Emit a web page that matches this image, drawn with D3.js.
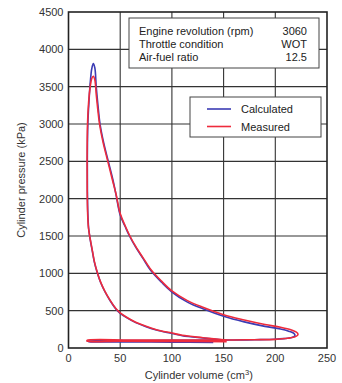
<!DOCTYPE html>
<html>
<head>
<meta charset="utf-8">
<script src="https://cdn.jsdelivr.net/npm/d3@7"></script>
<style>
  body { margin: 0; background: #fff; }
  text { font-family: "Liberation Sans", Arial, sans-serif; }
</style>
</head>
<body>
<svg id="chart" width="342" height="383"></svg>
<script>
// tick labels
const xTicks = [0, 50, 100, 150, 200, 250];
const yTicks = [0, 500, 1000, 1500, 2000, 2500, 3000, 3500, 4000, 4500];

// calculated loop (volume cm3, pressure kPa)
const calcV = [150, 130, 110, 100, 85, 75, 65, 57, 50, 46, 40, 35, 31, 28, 25, 23, 21, 19.5, 18.7, 18.3, 18.2, 18.7, 19.8, 21, 22.5, 24,
  25.5, 26.8, 28.5, 30.5, 34, 38.5, 43, 46, 50, 55, 59, 65, 72, 80, 90, 100, 115, 130, 150, 170, 190, 205, 213, 218, 219, 216, 208, 200, 180, 160, 150];
const calcP = [106, 133, 165, 195, 240, 285, 340, 400, 465, 520, 640, 760, 880, 1000, 1150, 1300, 1450, 1600, 1800, 2100, 2500, 3000, 3300, 3550, 3740, 3810,
  3750, 3500, 3250, 3000, 2750, 2500, 2250, 2050, 1780, 1620, 1500, 1350, 1200, 1030, 880, 750, 615, 525, 425, 350, 290, 255, 225, 195, 165, 140, 125, 117, 111, 107, 106];

// measured loop
const measV = [150, 130, 110, 100, 85, 75, 65, 57, 50, 46, 40, 35, 31, 28, 25, 23, 21, 19.3, 18.5, 18.1, 18, 18.4, 19.5, 21, 22.5, 24,
  25.5, 26.8, 28.3, 30, 33.5, 38, 42.5, 46, 50, 55, 59, 65, 72, 80, 90, 100, 115, 130, 150, 170, 190, 205, 215, 220, 222, 220, 212, 200, 180, 160, 150];
const measP = [110, 138, 170, 200, 245, 290, 345, 405, 470, 525, 645, 765, 885, 1005, 1160, 1310, 1460, 1610, 1810, 2110, 2500, 3000, 3300, 3500, 3610, 3640,
  3590, 3400, 3200, 3000, 2750, 2500, 2250, 2060, 1800, 1630, 1510, 1360, 1210, 1045, 895, 765, 635, 545, 445, 375, 315, 278, 245, 215, 185, 155, 130, 116, 111, 108, 107];

// pumping strokes
const calcPumpV = [140, 100, 60, 20, 18, 60, 100, 150];
const calcPumpP = [75, 78, 82, 85, 95, 100, 102, 106];
const measPumpV = [153, 100, 50, 18, 18, 60, 100, 153];
const measPumpP = [86, 88, 90, 92, 102, 105, 106, 108];

const infoRows = [["Engine revolution (rpm)", "3060"], ["Throttle condition", "WOT"], ["Air-fuel ratio", "12.5"]];
const legendNames = ["Calculated", "Measured"];

const blue = "#3c3cb4";
const red = "#ee2b3c";

const svg = d3.select("#chart");
const margin = { top: 12, right: 15, bottom: 35, left: 68.5 };
const width = 342 - margin.left - margin.right;
const height = 383 - margin.top - margin.bottom;

const x = d3.scaleLinear().domain([0, 250]).range([0, width]);
const y = d3.scaleLinear().domain([0, 4500]).range([height, 0]);

const g = svg.append("g").attr("transform", `translate(${margin.left},${margin.top})`);

// grid
g.selectAll(".xg").data(xTicks.slice(1, -1)).join("line")
  .attr("x1", d => x(d)).attr("x2", d => x(d))
  .attr("y1", 0).attr("y2", height)
  .attr("stroke", "#333").attr("stroke-width", 1.1);
g.selectAll(".yg").data(yTicks.slice(1, -1)).join("line")
  .attr("x1", 0).attr("x2", width)
  .attr("y1", d => y(d)).attr("y2", d => y(d))
  .attr("stroke", "#333").attr("stroke-width", 1.1);

// tick labels
g.selectAll(".xt").data(xTicks).join("text")
  .attr("x", d => x(d)).attr("y", height + 14)
  .attr("text-anchor", "middle").attr("font-size", 11).attr("fill", "#333")
  .text(d => d);
g.selectAll(".yt").data(yTicks).join("text")
  .attr("x", -5).attr("y", d => y(d) + 4)
  .attr("text-anchor", "end").attr("font-size", 11).attr("fill", "#333")
  .text(d => d);

// axis titles
const xt = g.append("text")
  .attr("x", width / 2 + 1).attr("y", height + 31)
  .attr("text-anchor", "middle").attr("font-size", 11).attr("fill", "#333");
xt.append("tspan").text("Cylinder volume (cm");
xt.append("tspan").attr("font-size", 7.5).attr("dy", -4).text("3");
xt.append("tspan").attr("dy", 4).text(")");

svg.append("text")
  .attr("transform", `translate(25,${margin.top + height / 2}) rotate(-90)`)
  .attr("text-anchor", "middle").attr("font-size", 11).attr("fill", "#333")
  .text("Cylinder pressure (kPa)");

// curves
const line = d3.line()
  .x(d => x(d[0])).y(d => y(d[1]))
  .curve(d3.curveCatmullRom.alpha(0.5));

function drawSeries(vs, ps, color, w) {
  g.append("path")
    .datum(vs.map((v, i) => [v, ps[i]]))
    .attr("fill", "none").attr("stroke", color)
    .attr("stroke-width", w).attr("stroke-linejoin", "round")
    .attr("d", line);
}
drawSeries(calcPumpV, calcPumpP, blue, 1.6);
drawSeries(calcV, calcP, blue, 1.6);
drawSeries(measPumpV, measPumpP, red, 1.6);
drawSeries(measV, measP, red, 1.6);

// frame
g.append("rect")
  .attr("width", width).attr("height", height)
  .attr("fill", "none").attr("stroke", "#222").attr("stroke-width", 1.6);

// info box
const info = svg.append("g").attr("transform", "translate(129,18)");
info.append("rect").attr("width", 190).attr("height", 50)
  .attr("fill", "#fff").attr("stroke", "#444").attr("stroke-width", 1);
info.selectAll(".il").data(infoRows).join("text")
  .attr("x", 10).attr("y", (d, i) => 17 + i * 13)
  .attr("font-size", 11).attr("fill", "#222")
  .text(d => d[0]);
info.selectAll(".iv").data(infoRows).join("text")
  .attr("x", 178).attr("y", (d, i) => 17 + i * 13)
  .attr("text-anchor", "end").attr("font-size", 11).attr("fill", "#222")
  .text(d => d[1]);

// legend
const leg = svg.append("g").attr("transform", "translate(190,97)");
leg.append("rect").attr("width", 131).attr("height", 40)
  .attr("fill", "#fff").attr("stroke", "#444").attr("stroke-width", 1);
const legColors = [blue, red];
legendNames.forEach((name, i) => {
  const ly = 12 + i * 17.5;
  leg.append("line").attr("x1", 17).attr("x2", 41).attr("y1", ly).attr("y2", ly)
    .attr("stroke", legColors[i]).attr("stroke-width", 1.6);
  leg.append("text").attr("x", 51).attr("y", ly + 4)
    .attr("font-size", 11).attr("fill", "#222").text(name);
});
</script>
</body>
</html>
